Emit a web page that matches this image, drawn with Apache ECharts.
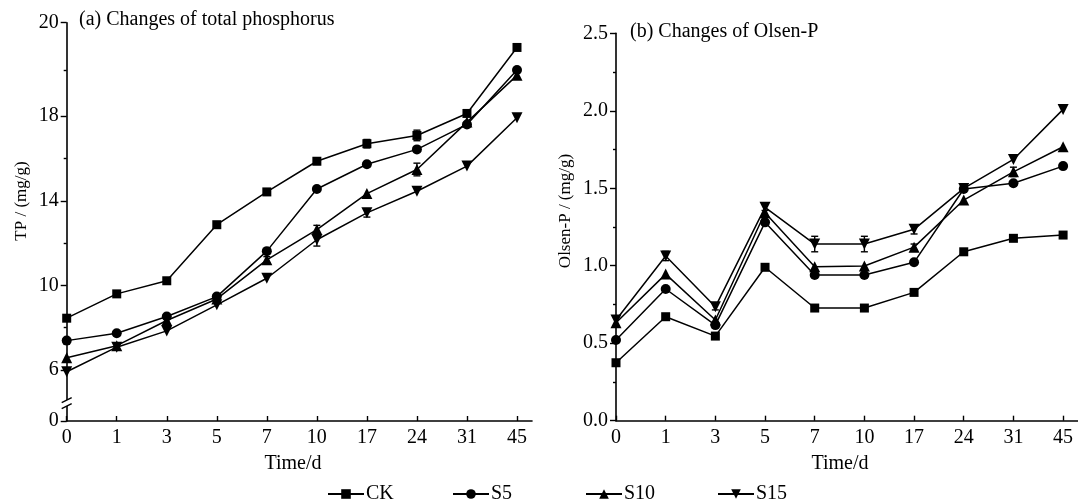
<!DOCTYPE html>
<html><head><meta charset="utf-8">
<script src="https://cdn.jsdelivr.net/npm/echarts@6/dist/echarts.min.js"></script>
<style>html,body{margin:0;padding:0;background:#fff}#c{width:1078px;height:503px}</style>
</head><body><div id="c"></div>
<script>
// ---- categories ----
const days = ['0','1','3','5','7','10','17','24','31','45'];
const names = ['CK','S5','S10','S15'];

// ---- (a) total phosphorus, mg/g ----
const tpCK  = [8.45, 9.60, 10.22, 12.87, 14.42, 15.87, 16.70, 17.09, 18.13, 21.25];
const tpS5  = [7.39, 7.74, 8.53, 9.47, 11.62, 14.56, 15.73, 16.43, 17.61, 20.18];
const tpS10 = [6.58, 7.15, 8.34, 9.36, 11.21, 12.64, 14.34, 15.48, 17.72, 19.93];
const tpS15 = [5.92, 7.08, 7.85, 9.08, 10.34, 12.16, 13.43, 14.45, 15.64, 17.93];
const tpErrCK  = [0, 0, 0, 0, 0, 0, 0.2, 0.25, 0.1, 0];
const tpErrS5  = [0, 0, 0, 0, 0, 0, 0, 0, 0, 0];
const tpErrS10 = [0, 0, 0, 0, 0.15, 0.2, 0, 0.3, 0, 0];
const tpErrS15 = [0, 0, 0, 0, 0, 0.3, 0.2, 0, 0, 0];

// ---- (b) Olsen-P, mg/g ----
const opCK  = [0.374, 0.671, 0.546, 0.990, 0.727, 0.727, 0.828, 1.090, 1.177, 1.198];
const opS5  = [0.521, 0.850, 0.617, 1.280, 0.940, 0.940, 1.022, 1.495, 1.532, 1.643];
const opS10 = [0.632, 0.946, 0.650, 1.342, 0.994, 0.998, 1.120, 1.424, 1.606, 1.768];
const opS15 = [0.650, 1.063, 0.735, 1.377, 1.140, 1.140, 1.235, 1.499, 1.686, 2.009];
const opErrCK  = [0, 0, 0, 0, 0, 0, 0, 0, 0, 0];
const opErrS5  = [0, 0, 0, 0, 0, 0, 0, 0, 0, 0];
const opErrS10 = [0, 0, 0, 0, 0, 0, 0.02, 0, 0.03, 0];
const opErrS15 = [0, 0.03, 0.02, 0.02, 0.05, 0.05, 0.03, 0, 0, 0];

// ---- tick labels ----
const tpAxisMin = 3.59, tpAxisMax = 22.42;
const tpTickValues = [3.59, 6, 10, 14, 18, 22.42];
const tpTickLabels = ['0', '6', '10', '14', '18', '20'];
const tpMinorValues = [8, 12, 16, 20.18];
const xIdx = [0,1,2,3,4,5,6,7,8,9];

const FONT = '"Liberation Serif", "DejaVu Serif", serif';
const symbols = {
  CK:  {symbol: 'rect', symbolSize: 9, symbolRotate: 0},
  S5:  {symbol: 'circle', symbolSize: 10, symbolRotate: 0},
  S10: {symbol: 'triangle', symbolSize: 11, symbolRotate: 0},
  S15: {symbol: 'triangle', symbolSize: 11, symbolRotate: 180}
};
const tpData = {CK: tpCK, S5: tpS5, S10: tpS10, S15: tpS15};
const tpErr  = {CK: tpErrCK, S5: tpErrS5, S10: tpErrS10, S15: tpErrS15};
const opData = {CK: opCK, S5: opS5, S10: opS10, S15: opS15};
const opErr  = {CK: opErrCK, S5: opErrS5, S10: opErrS10, S15: opErrS15};

const axisLineStyle = {color: '#000', width: 1.6};
function xAxisDef(gi) {
  return {
    type: 'value', gridIndex: gi, min: 0, max: 9.3,
    splitLine: {show: false},
    axisLine: {lineStyle: axisLineStyle},
    axisTick: {show: true, inside: true, length: 5, customValues: xIdx, lineStyle: {color: '#000', width: 1.4}},
    axisLabel: {customValues: xIdx, formatter: v => days[Math.round(v)], color: '#000', fontFamily: FONT, fontSize: 20, margin: 7}
  };
}

const series = [];
names.forEach(n => {
  const s = symbols[n];
  [[0, tpData[n]], [1, opData[n]]].forEach(([gi, arr]) => {
    series.push({
      type: 'line', name: n, xAxisIndex: gi, yAxisIndex: gi === 0 ? 0 : 2,
      data: arr.map((v, i) => [i, v]),
      symbol: s.symbol, symbolSize: s.symbolSize, symbolRotate: s.symbolRotate,
      showAllSymbol: true,
      lineStyle: {color: '#000', width: 1.5},
      itemStyle: {color: '#000'},
      z: 3
    });
  });
});
function errRender(params, api) {
  const x = api.value(0), v = api.value(1), e = api.value(2);
  const t = api.coord([x, v + e]), b = api.coord([x, v - e]);
  const w = 3.5, st = {stroke: '#000', lineWidth: 1.4};
  return {type: 'group', children: [
    {type: 'line', shape: {x1: t[0], y1: t[1], x2: b[0], y2: b[1]}, style: st},
    {type: 'line', shape: {x1: t[0] - w, y1: t[1], x2: t[0] + w, y2: t[1]}, style: st},
    {type: 'line', shape: {x1: b[0] - w, y1: b[1], x2: b[0] + w, y2: b[1]}, style: st}
  ]};
}
names.forEach(n => {
  [[0, 0, tpData[n], tpErr[n]], [1, 2, opData[n], opErr[n]]].forEach(([gi, yi, arr, err]) => {
    const d = [];
    arr.forEach((v, i) => { if (err[i] > 0) d.push([i, v, err[i]]); });
    series.push({type: 'custom', name: n + ' err', xAxisIndex: gi, yAxisIndex: yi, data: d, renderItem: errRender, z: 4, silent: true});
  });
});

function legendDef(name, left) {
  return {
    data: [name], left: left, top: 479, itemWidth: 36, itemHeight: 12, itemGap: 0,
    textStyle: {color: '#000', fontFamily: FONT, fontSize: 20, padding: [0, 0, 0, -3]},
    selectedMode: false
  };
}

const option = {
  animation: false,
  backgroundColor: '#fff',
  grid: [
    {left: 66.7, top: 22.7, width: 465.3, height: 398.3},
    {left: 616, top: 33.3, width: 465, height: 387.4}
  ],
  xAxis: [xAxisDef(0), xAxisDef(1)],
  yAxis: [
    {
      type: 'value', gridIndex: 0, position: 'left', min: tpAxisMin, max: tpAxisMax,
      splitLine: {show: false},
      axisLine: {show: true, lineStyle: axisLineStyle},
      axisTick: {show: true, length: 6, customValues: tpTickValues, lineStyle: {color: '#000', width: 1.4}},
      axisLabel: {
        customValues: tpTickValues, color: '#000', fontFamily: FONT, fontSize: 20, margin: 8,
        formatter: v => {
          let k = 0, best = 1e9;
          tpTickValues.forEach((t, i) => { if (Math.abs(t - v) < best) { best = Math.abs(t - v); k = i; } });
          return tpTickLabels[k];
        }
      }
    },
    {
      type: 'value', gridIndex: 0, position: 'left', offset: 0, min: tpAxisMin, max: tpAxisMax,
      splitLine: {show: false}, axisLine: {show: false}, axisLabel: {show: false},
      axisTick: {show: true, length: 3, customValues: tpMinorValues, lineStyle: {color: '#000', width: 1.4}}
    },
    {
      type: 'value', gridIndex: 1, position: 'left', min: 0, max: 2.5, interval: 0.5,
      splitLine: {show: false},
      axisLine: {show: true, lineStyle: axisLineStyle},
      axisTick: {show: true, length: 6, lineStyle: {color: '#000', width: 1.4}},
      minorTick: {show: true, splitNumber: 2, length: 3, lineStyle: {color: '#000', width: 1.4}},
      axisLabel: {color: '#000', fontFamily: FONT, fontSize: 20, margin: 8, formatter: v => v.toFixed(1)}
    }
  ],
  legend: [legendDef('CK', 322), legendDef('S5', 447), legendDef('S10', 580), legendDef('S15', 712)],
  series: series
};

const chart = echarts.init(document.getElementById('c'), null, {renderer: 'canvas'});
chart.setOption(option);

// axis break + texts
const axX = chart.convertToPixel({xAxisIndex: 0}, 0);
const brY = chart.convertToPixel({yAxisIndex: 0}, 4.44);
const txt = (text, x, y, size, rot, align) => ({
  type: 'text', x: x, y: y, rotation: rot || 0,
  style: {text: text, fill: '#000', font: size + 'px ' + FONT, textAlign: align || 'left', textVerticalAlign: 'middle'}
});
chart.setOption({
  graphic: [
    {type: 'rect', shape: {x: axX - 6, y: brY - 3, width: 12, height: 6}, style: {fill: '#fff'}, z: 10},
    {type: 'line', shape: {x1: axX - 5, y1: brY - 0.5, x2: axX + 5, y2: brY - 5.5}, style: {stroke: '#000', lineWidth: 1.4}, z: 11},
    {type: 'line', shape: {x1: axX - 5, y1: brY + 5.5, x2: axX + 5, y2: brY + 0.5}, style: {stroke: '#000', lineWidth: 1.4}, z: 11},
    txt('(a) Changes of total phosphorus', 79, 20, 20),
    txt('(b) Changes of Olsen-P', 630, 32, 20),
    txt('Time/d', 293, 464, 20, 0, 'center'),
    txt('Time/d', 840, 464, 20, 0, 'center'),
    txt('TP / (mg/g)', 22, 201, 17, Math.PI / 2, 'center'),
    txt('Olsen-P / (mg/g)', 566, 211, 17, Math.PI / 2, 'center')
  ]
});
</script>
</body></html>
